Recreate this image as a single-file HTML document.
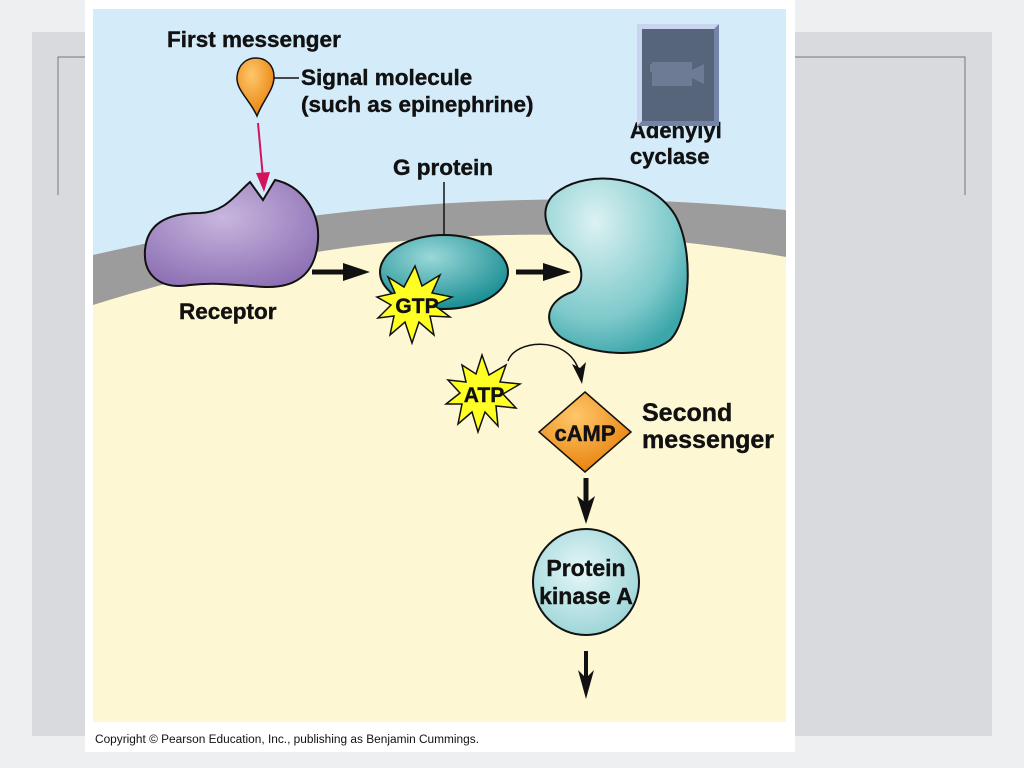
<!DOCTYPE html>
<html><head><meta charset="utf-8"><style>
html,body{margin:0;padding:0;width:1024px;height:768px;overflow:hidden;background:#eeeff1}
svg{display:block}
text{font-family:"Liberation Sans",Arial,sans-serif;font-weight:bold;fill:#111;stroke:#111;stroke-width:0.4}
</style></head><body>
<svg width="1024" height="768" viewBox="0 0 1024 768" xmlns="http://www.w3.org/2000/svg">
<defs>
<radialGradient id="pur" cx="0.45" cy="0.35" r="0.7"><stop offset="0" stop-color="#c8b6de"/><stop offset="1" stop-color="#8d70b4"/></radialGradient>
<radialGradient id="teal" cx="0.4" cy="0.3" r="0.7"><stop offset="0" stop-color="#9ad8d8"/><stop offset="1" stop-color="#1a8f94"/></radialGradient>
<radialGradient id="ac" cx="0.35" cy="0.25" r="0.8"><stop offset="0" stop-color="#dcf2f2"/><stop offset="0.7" stop-color="#7ec9cb"/><stop offset="1" stop-color="#3ca6aa"/></radialGradient>
<radialGradient id="pka" cx="0.45" cy="0.4" r="0.6"><stop offset="0" stop-color="#e6f7f8"/><stop offset="1" stop-color="#9fd6d9"/></radialGradient>
<radialGradient id="org" cx="0.4" cy="0.3" r="0.7"><stop offset="0" stop-color="#ffc76a"/><stop offset="1" stop-color="#e8830e"/></radialGradient>
</defs>
<rect x="32" y="32" width="960" height="704" fill="#d9dadd"/>
<path d="M58 195 V57 H85" fill="none" stroke="#777" stroke-width="1"/>
<path d="M795 57 H965 V195" fill="none" stroke="#777" stroke-width="1"/>
<rect x="85" y="0" width="710" height="752" fill="#fff"/>
<rect x="93" y="9" width="693" height="713" fill="#fdf8d3"/>
<path d="M93 9 H786 V210 Q440 175 93 255 Z" fill="#d4ecfa"/>
<path d="M93 255 Q440 175 786 210 V257 Q440 195 93 305 Z" fill="#9c9c9c"/>
<!-- receptor -->
<path d="M250 182 L263 200 L275 180 C300 185 320 210 318 240 C316 270 300 288 265 287 C235 285 215 282 190 285 C160 290 143 275 145 250 C147 225 165 213 200 213 C225 212 235 195 250 182 Z" fill="url(#pur)" stroke="#111" stroke-width="2"/>
<!-- signal molecule -->
<path d="M257 116 C250 100 236 90 237 77 C238 64 247 58 256 58 C266 58 274 65 274 77 C274 90 263 100 257 116 Z" fill="url(#org)" stroke="#111" stroke-width="1.5"/>
<line x1="274" y1="78" x2="299" y2="78" stroke="#111" stroke-width="1.5"/>
<line x1="258" y1="123" x2="263" y2="178" stroke="#d4145a" stroke-width="2"/>
<path d="M256 173 L264 192 L270 172 Z" fill="#d4145a"/>
<text x="167" y="47" font-size="22.5">First messenger</text>
<text x="301" y="85" font-size="22.5">Signal molecule</text>
<text x="301" y="112" font-size="22.5">(such as epinephrine)</text>
<text x="179" y="319" font-size="22.5">Receptor</text>
<!-- G protein -->
<text x="393" y="175" font-size="22.5">G protein</text>
<line x1="444" y1="182" x2="444" y2="235" stroke="#111" stroke-width="1.5"/>
<ellipse cx="444" cy="272" rx="64" ry="37" fill="url(#teal)" stroke="#111" stroke-width="2"/>
<polygon points="415,266 422,286 440,275 432,293 452,297 434,305 450,317 430,316 434,335 419,322 412,343 405,322 390,335 394,316 378,318 391,305 377,297 395,293 388,277 404,287" fill="#ffff24" stroke="#111" stroke-width="1.5"/>
<text x="417" y="313" font-size="21" text-anchor="middle">GTP</text>
<!-- arrows -->
<line x1="312" y1="272" x2="352" y2="272" stroke="#111" stroke-width="5"/>
<path d="M343 263 L370 272 L343 281 Z" fill="#111"/>
<line x1="516" y1="272" x2="552" y2="272" stroke="#111" stroke-width="5"/>
<path d="M543 263 L571 272 L543 281 Z" fill="#111"/>
<!-- adenylyl cyclase -->
<path d="M560 190 C590 170 650 175 675 215 C695 250 690 320 670 340 C645 360 590 355 562 338 C540 322 548 300 572 292 C585 286 585 262 568 250 C545 235 535 205 560 190 Z" fill="url(#ac)" stroke="#111" stroke-width="2"/>
<text x="630" y="138" font-size="22">Adenylyl</text>
<text x="630" y="164" font-size="22">cyclase</text>
<!-- video icon -->
<rect x="637" y="24" width="82" height="102" fill="#c8d4f0"/>
<path d="M719 24 V126 H637 L642 121 H714 V29 Z" fill="#7484a8"/>
<rect x="642" y="29" width="72" height="92" fill="#56657a"/>
<rect x="652" y="62" width="40" height="24" fill="#6d7b95"/>
<rect x="650" y="64" width="4" height="8" fill="#6d7b95"/>
<path d="M692 70 L704 64 V84 L692 78 Z" fill="#6d7b95"/>
<!-- ATP -->
<polygon points="482,355 489,375 506,365 500,382 520,384 503,394 516,408 496,406 498,426 485,412 478,432 472,412 458,424 462,404 446,404 460,393 448,380 466,382 462,365 476,374" fill="#ffff24" stroke="#111" stroke-width="1.5"/>
<text x="484" y="402" font-size="21" text-anchor="middle">ATP</text>
<path d="M508 361 C515 340 565 335 578 368" fill="none" stroke="#111" stroke-width="1.5"/>
<path d="M572 364 L582 384 L586 362 L580 368 Z" fill="#111"/>
<!-- cAMP -->
<polygon points="585,392 631,432 585,472 539,432" fill="url(#org)" stroke="#111" stroke-width="1.5"/>
<text x="585" y="441" font-size="22" text-anchor="middle">cAMP</text>
<text x="642" y="421" font-size="25">Second</text>
<text x="642" y="448" font-size="25">messenger</text>
<line x1="586" y1="478" x2="586" y2="505" stroke="#111" stroke-width="5"/>
<path d="M577 496 L586 524 L595 496 L586 503 Z" fill="#111"/>
<!-- PKA -->
<circle cx="586" cy="582" r="53" fill="url(#pka)" stroke="#111" stroke-width="2"/>
<text x="586" y="576" font-size="23" text-anchor="middle">Protein</text>
<text x="586" y="604" font-size="23" text-anchor="middle">kinase A</text>
<line x1="586" y1="651" x2="586" y2="682" stroke="#111" stroke-width="4"/>
<path d="M578 670 L586 699 L594 670 L586 678 Z" fill="#111"/>
<text x="95" y="743" font-size="11.5" style="font-weight:normal;stroke:none" textLength="384" lengthAdjust="spacingAndGlyphs">Copyright © Pearson Education, Inc., publishing as Benjamin Cummings.</text>
</svg>
</body></html>
